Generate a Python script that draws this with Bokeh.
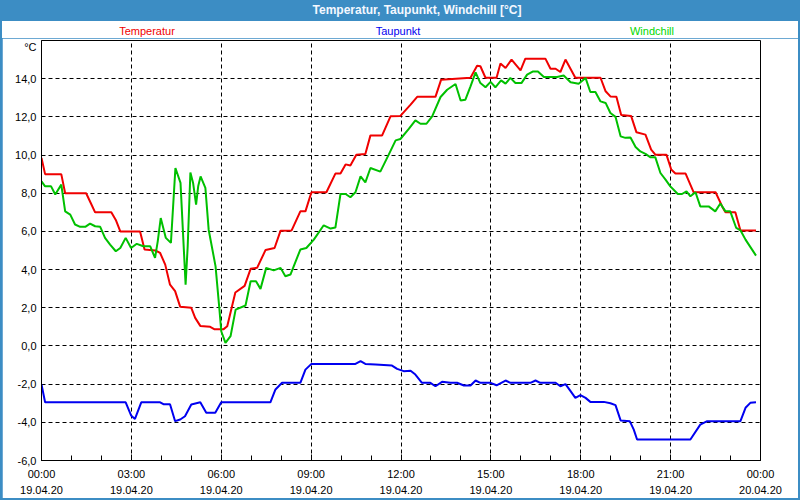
from bokeh.plotting import figure
from bokeh.models import FixedTicker, Div
from bokeh.layouts import column
from bokeh.embed import file_html
from bokeh.resources import INLINE

# ---- data (hours since 19.04.20 00:00, °C) ----
temp_h = [0.0, 0.12, 0.66, 0.79, 1.49, 1.64, 1.79, 2.33, 2.48, 2.63, 3.29, 3.44, 3.8, 3.96,
          4.13, 4.29, 4.46, 4.63, 5.0, 5.13, 5.3, 5.63, 5.78, 6.07, 6.2, 6.47, 6.78, 6.98,
          7.2, 7.48, 7.78, 7.98, 8.35, 8.64, 8.81, 9.01, 9.51, 9.81, 9.98, 10.15, 10.31,
          10.51, 10.81, 10.98, 11.37, 11.65, 11.98, 12.32, 12.54, 13.15, 13.34, 14.32,
          14.54, 14.65, 14.82, 15.19, 15.32, 15.49, 15.69, 15.99, 16.15, 16.82, 16.99,
          17.16, 17.32, 17.49, 17.82, 18.66, 18.83, 18.99, 19.19, 19.35, 19.68, 19.86,
          20.16, 20.35, 20.49, 20.86, 21.02, 21.16, 21.5, 21.77, 22.5, 22.72, 22.83,
          23.16, 23.33, 23.85]
temp_v = [9.85, 9.0, 9.0, 8.0, 8.0, 7.5, 7.0, 7.0, 6.6, 6.0, 6.0, 5.05, 5.0, 4.87,
          4.26, 3.21, 2.87, 2.05, 2.0, 1.47, 1.05, 1.0, 0.87, 0.87, 1.03, 2.8, 3.15, 4.04,
          4.1, 5.03, 5.13, 6.04, 6.05, 7.05, 7.05, 8.05, 8.05, 9.03, 9.03, 9.51, 9.45,
          10.02, 10.05, 11.03, 11.03, 12.03, 12.05, 12.64, 13.05, 13.05, 13.95, 14.05,
          14.68, 14.65, 14.05, 14.05, 14.79, 14.56, 15.0, 14.43, 15.05, 15.05, 14.52,
          14.52, 14.35, 15.0, 14.05, 14.05, 13.34, 13.07, 13.05, 12.1, 12.05, 11.19,
          11.07, 10.28, 10.02, 10.02, 9.24, 9.03, 9.03, 8.05, 8.05, 7.31, 7.0,
          7.0, 6.05, 6.05]

wind_h = [0.0, 0.12, 0.32, 0.46, 0.66, 0.79, 0.96, 1.12, 1.29, 1.46, 1.62, 1.79, 1.96, 2.12,
          2.29, 2.48, 2.63, 2.81, 2.99, 3.18, 3.4, 3.63, 3.79, 3.88, 3.98, 4.15, 4.32, 4.47,
          4.64, 4.81, 4.88, 4.97, 5.06, 5.16, 5.23, 5.31, 5.47, 5.58, 5.81, 5.94, 6.0, 6.14,
          6.31, 6.48, 6.81, 6.98, 7.16, 7.31, 7.5, 7.75, 7.98, 8.14, 8.31, 8.64, 8.84, 9.09,
          9.42, 9.65, 9.81, 9.98, 10.15, 10.31, 10.48, 10.65, 10.81, 10.98, 11.31, 11.59,
          11.82, 11.98, 12.26, 12.48, 12.65, 12.85, 13.04, 13.32, 13.54, 13.82, 13.99,
          14.15, 14.32, 14.49, 14.65, 14.82, 14.99, 15.15, 15.34, 15.49, 15.65, 15.82,
          16.02, 16.21, 16.41, 16.57, 16.77, 17.21, 17.43, 17.66, 17.93, 18.16, 18.32,
          18.49, 18.66, 18.83, 18.99, 19.16, 19.33, 19.49, 19.66, 19.83, 19.99, 20.16,
          20.33, 20.49, 20.66, 20.83, 20.99, 21.24, 21.38, 21.53, 21.66, 21.83, 21.99,
          22.27, 22.49, 22.66, 22.83, 22.99, 23.19, 23.33, 23.5, 23.85]
wind_v = [8.62, 8.36, 8.36, 7.93, 8.45, 7.05, 6.88, 6.36, 6.24, 6.24, 6.41, 6.27, 6.24, 5.66,
          5.31, 4.96, 5.13, 5.66, 5.13, 5.35, 5.22, 5.22, 4.61, 5.48, 6.7, 5.66, 5.4, 9.32,
          8.54, 3.21, 5.22, 9.09, 8.54, 7.4, 8.36, 8.88, 8.28, 6.09, 4.17, 1.9, 0.77, 0.16,
          0.51, 1.9, 2.12, 3.39, 3.39, 2.99, 4.09, 3.96, 4.09, 3.65, 3.74, 5.05, 5.13, 5.57,
          6.32, 6.15, 6.2, 7.96, 7.96, 7.79, 8.05, 8.88, 8.57, 9.32, 9.13, 10.02,
          10.77, 10.84, 11.37, 11.82, 11.64, 11.64, 12.03, 13.04, 13.42, 13.72, 12.86,
          12.9, 13.6, 14.33, 13.77, 13.55, 13.83, 13.55, 13.91, 13.74, 14.04, 13.77,
          13.77, 14.21, 14.38, 14.38, 14.09, 14.09, 14.17, 13.81, 13.74, 14.04, 13.3,
          13.3, 12.81, 12.73, 12.2, 12.0, 10.98, 10.9, 10.92, 10.42, 10.19, 10.06,
          9.88, 9.88, 9.06, 8.71, 8.36, 7.96, 7.96, 8.1, 7.84, 8.05, 7.31,
          7.31, 7.05, 7.46, 7.05, 7.05, 6.18, 6.06, 5.57, 4.73]

dew_h = [0.0, 0.12, 2.81, 2.99, 3.12, 3.33, 3.96, 4.07, 4.29, 4.46, 4.63, 4.79, 5.0, 5.3,
         5.5, 5.8, 6.0, 7.64, 7.81, 8.03, 8.64, 8.81, 9.01, 10.48, 10.65, 10.81, 11.15,
         11.7, 11.87, 12.09, 12.32, 12.48, 12.7, 12.98, 13.15, 13.37, 13.65, 13.87, 14.1,
         14.32, 14.49, 14.65, 14.99, 15.19, 15.49, 15.65, 16.32, 16.49, 16.65, 17.16,
         17.32, 17.49, 17.66, 17.82, 17.99, 18.16, 18.32, 18.77, 18.99, 19.16, 19.33,
         19.64, 19.77, 19.88, 21.66, 21.99, 22.22, 23.33, 23.5, 23.66, 23.85]
dew_v = [-2.02, -2.95, -2.95, -3.64, -3.82, -2.95, -2.95, -3.05, -3.05, -3.94, -3.85, -3.68,
         -3.07, -2.95, -3.5, -3.5, -2.95, -2.95, -2.28, -1.93, -1.93, -1.24, -0.94, -0.94,
         -0.8, -0.94, -0.97, -1.03, -1.2, -1.32, -1.3, -1.5, -1.93, -1.93, -2.11, -1.88,
         -1.93, -1.93, -2.07, -2.07, -1.81, -1.93, -1.93, -2.06, -1.81, -1.93, -1.93,
         -1.81, -1.93, -1.93, -2.11, -2.0, -2.37, -2.72, -2.58, -2.72, -2.93, -2.93,
         -3.0, -3.1, -3.9, -3.95, -4.38, -4.9, -4.9, -4.12, -3.94, -3.94, -3.24, -2.98,
         -2.95]

x_ticks = [0, 3, 6, 9, 12, 15, 18, 21, 24]
x_tick_labels = ["00:00\n19.04.20", "03:00\n19.04.20", "06:00\n19.04.20", "09:00\n19.04.20",
                 "12:00\n19.04.20", "15:00\n19.04.20", "18:00\n19.04.20", "21:00\n19.04.20",
                 "00:00\n20.04.20"]
y_ticks = [-6, -4, -2, 0, 2, 4, 6, 8, 10, 12, 14]
y_tick_labels = ["-6,0", "-4,0", "-2,0", "0,0", "2,0", "4,0", "6,0", "8,0", "10,0", "12,0", "14,0"]
unit_label = "°C"
unit_pos = 15.65

title_text = "Temperatur, Taupunkt, Windchill [°C]"
series_names = ["Temperatur", "Taupunkt", "Windchill"]

RED = "#f00000"
BLUE = "#0000f0"
GREEN = "#00c000"
BAR = "#3c8dc4"
FONT = "Liberation Sans"

p = figure(width=796, height=460, x_range=(0, 24), y_range=(-6, 16),
           output_backend="svg", toolbar_location=None,
           min_border_left=39, min_border_right=38, min_border_top=2, min_border_bottom=37,
           margin=(0, 2, 2, 2), background_fill_color="white", border_fill_color="white",
           outline_line_color="black", outline_line_width=1)

p.line(temp_h, temp_v, line_color=RED, line_width=2)
p.line(wind_h, wind_v, line_color=GREEN, line_width=2)
p.line(dew_h, dew_v, line_color=BLUE, line_width=2)

xa = p.xaxis[0]
xa.ticker = FixedTicker(ticks=x_ticks, minor_ticks=list(range(0, 25)))
xa.major_label_overrides = {t: l for t, l in zip(x_ticks, x_tick_labels)}
xa.major_tick_in = 6
xa.major_tick_out = 0
xa.minor_tick_in = 5
xa.minor_tick_out = 0
xa.major_tick_line_color = "black"
xa.minor_tick_line_color = "black"
xa.axis_line_color = "black"
xa.major_label_standoff = 7
xa.major_label_text_font = FONT
xa.major_label_text_font_size = "11px"
xa.major_label_text_color = "black"
xa.major_label_text_line_height = 1.35

ya = p.yaxis[0]
ya.ticker = FixedTicker(ticks=y_ticks + [unit_pos])
ov = {t: l for t, l in zip(y_ticks, y_tick_labels)}
ov[unit_pos] = unit_label
ya.major_label_overrides = ov
ya.major_tick_in = 0
ya.major_tick_out = 0
ya.minor_tick_line_color = None
ya.axis_line_color = "black"
ya.major_label_standoff = 5
ya.major_label_text_font = FONT
ya.major_label_text_font_size = "11px"
ya.major_label_text_color = "black"

p.xgrid.ticker = FixedTicker(ticks=x_ticks[1:-1])
p.ygrid.ticker = FixedTicker(ticks=y_ticks[1:])
for g in (p.xgrid[0], p.ygrid[0]):
    g.grid_line_color = "black"
    g.grid_line_dash = "4 3"
    g.grid_line_width = 1
    g.grid_line_alpha = 1.0

colors = [RED, BLUE, "#00d800"]
centers = [145, 396, 650]
spans = "".join(
    f'<span style="position:absolute;left:{c}px;top:30px;transform:translate(-50%,-50%);'
    f'white-space:nowrap;color:{col};font-size:11px;">{n}</span>'
    for n, col, c in zip(series_names, colors, centers))
html = (
    f'<div style="position:relative;width:796px;height:36px;font-family:\'{FONT}\';">'
    f'<div style="position:absolute;left:0;top:0;width:796px;height:19px;background:{BAR};"></div>'
    f'<span style="position:absolute;left:415px;top:9px;transform:translate(-50%,-50%);'
    f'white-space:nowrap;color:#f4f8ff;font-weight:bold;font-size:12px;">{title_text}</span>'
    f'{spans}</div>'
)
head = Div(text=html, width=796, height=36, margin=(2, 2, 0, 2),
           styles={"background-color": "white"})

layout = column(head, p, margin=(0, 0, 0, 0), styles={"background-color": BAR})

open("out.html", "w").write(file_html(layout, INLINE))
